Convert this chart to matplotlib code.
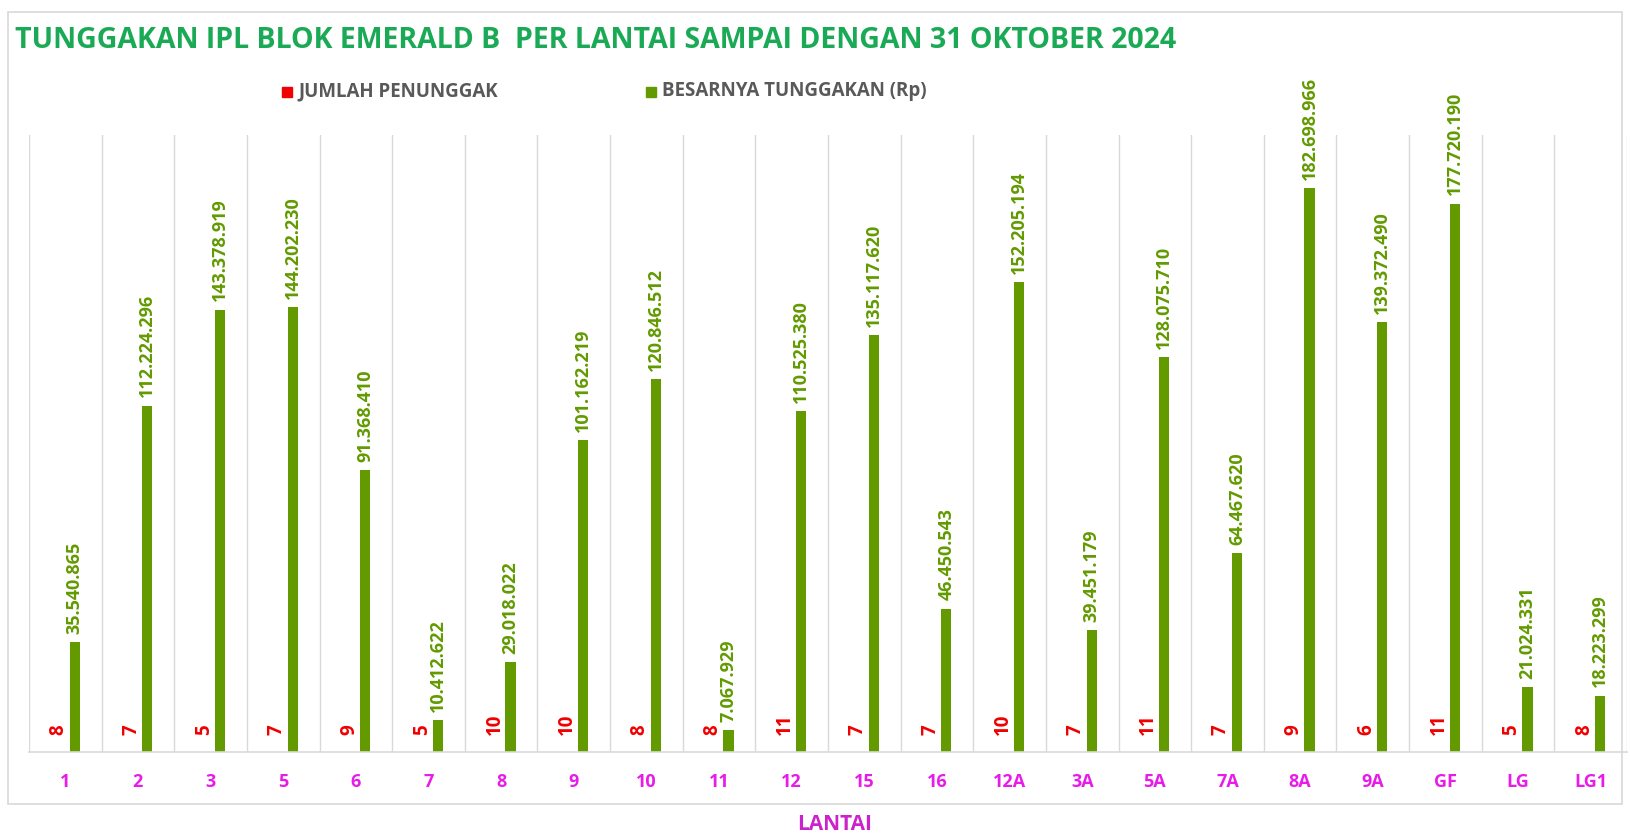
import matplotlib
matplotlib.use("Agg")
import matplotlib.pyplot as plt
import numpy as np
from matplotlib.patches import Rectangle

lantai = ["1", "2", "3", "5", "6", "7", "8", "9", "10", "11", "12", "15", "16",
          "12A", "3A", "5A", "7A", "8A", "9A", "GF", "LG", "LG1"]
jumlah_penunggak = [8, 7, 5, 7, 9, 5, 10, 10, 8, 8, 11, 7, 7, 10, 7, 11, 7, 9, 6, 11, 5, 8]
besarnya_tunggakan = [35540865, 112224296, 143378919, 144202230, 91368410, 10412622,
                      29018022, 101162219, 120846512, 7067929, 110525380, 135117620,
                      46450543, 152205194, 39451179, 128075710, 64467620, 182698966,
                      139372490, 177720190, 21024331, 18223299]

GREEN = "#629A00"
RED = "#F00000"
MAGENTA = "#E81BE8"
TITLE_GREEN = "#1AAA55"
TXT = dict(fontweight="bold", family="Open Sans")


def fmt_id(v):
    return f"{v:,}".replace(",", ".")


fig = plt.figure(figsize=(16.31, 8.34), dpi=100)
fig.patches.append(Rectangle((8 / 1631, 1 - 804 / 834), 1614 / 1631, 792 / 834,
                             transform=fig.transFigure, fill=False,
                             edgecolor="#D9D9D9", linewidth=1.2))

ax = fig.add_axes([29 / 1631, 1 - 752 / 834, 1598 / 1631, 617 / 834])
x = np.arange(len(lantai))
w = 0.14
off = 0.13
ax.bar(x - off, jumlah_penunggak, width=w, color=RED)
ax.bar(x + off, besarnya_tunggakan, width=w, color=GREEN)

for xi, v in zip(x, besarnya_tunggakan):
    ax.annotate(fmt_id(v), (xi + off, v), xytext=(0, 6), textcoords="offset points",
                rotation=90, ha="center", va="bottom", color=GREEN, fontsize=13, **TXT)
for xi, v in zip(x, jumlah_penunggak):
    ax.annotate(str(v), (xi - off, v), xytext=(2, 12), textcoords="offset points",
                rotation=90, ha="center", va="bottom", color=RED, fontsize=13.5, **TXT)

ax.set_xlim(-0.5, len(lantai) - 0.5)
ax.set_ylim(0, 200e6)
ax.set_xticks(x)
ax.set_xticklabels(lantai, color=MAGENTA, fontsize=13, **TXT)
ax.tick_params(axis="x", length=0, pad=15)
ax.set_yticks([])
for b in np.arange(0.5, len(lantai) - 0.5, 1.0):
    ax.axvline(b, color="#D9D9D9", linewidth=1.0, zorder=0)
ax.axvline(-0.5, color="#D9D9D9", linewidth=1.0, zorder=0)
ax.axvline(len(lantai) - 0.5, color="#D9D9D9", linewidth=1.0, zorder=0)
for s in ["top", "left", "right"]:
    ax.spines[s].set_visible(False)
ax.spines["bottom"].set_color("#D9D9D9")
ax.spines["bottom"].set_linewidth(1.2)

fig.text(15 / 1631, 1 - 40 / 834, "TUNGGAKAN IPL BLOK EMERALD B  PER LANTAI SAMPAI DENGAN 31 OKTOBER 2024",
         color=TITLE_GREEN, fontsize=20.5, va="center", ha="left", **TXT)

fig.patches.append(Rectangle((282 / 1631, 1 - 97 / 834), 10 / 1631, 10 / 834,
                             transform=fig.transFigure, color=RED))
fig.text(298 / 1631, 1 - 91 / 834, "JUMLAH PENUNGGAK", color="#595959",
         fontsize=13.5, va="center", ha="left", **TXT)
fig.patches.append(Rectangle((646 / 1631, 1 - 97 / 834), 10 / 1631, 10 / 834,
                             transform=fig.transFigure, color=GREEN))
fig.text(662 / 1631, 1 - 91 / 834, "BESARNYA TUNGGAKAN (Rp)", color="#595959",
         fontsize=13.5, va="center", ha="left", **TXT)

fig.text(835 / 1631, 1 - 824 / 834, "LANTAI", color="#CC22CC",
         fontsize=15, va="center", ha="center", **TXT)

fig.savefig("out.png", dpi=100)
